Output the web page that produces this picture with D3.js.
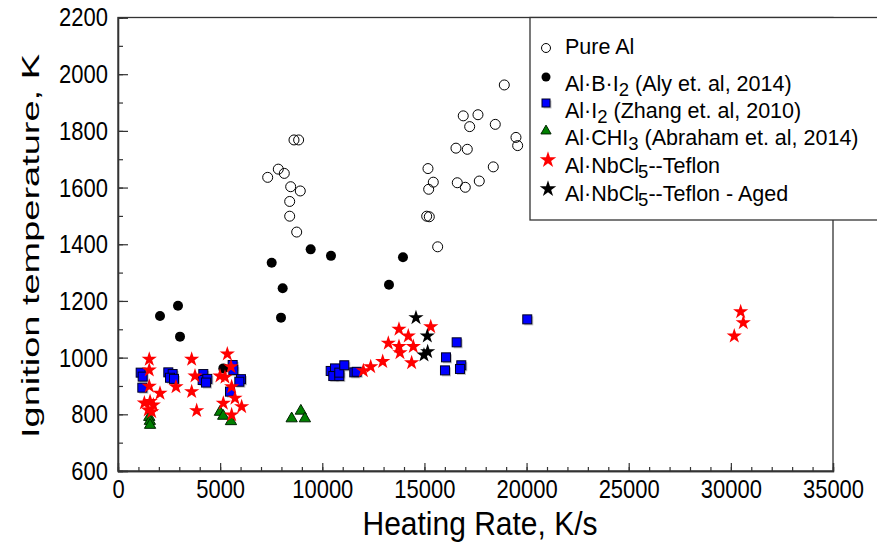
<!DOCTYPE html>
<html><head><meta charset="utf-8">
<script src="https://cdn.jsdelivr.net/npm/d3@7"></script>
<style>body{margin:0;background:#fff}svg{display:block}text{font-family:"Liberation Sans",Arial,sans-serif;fill:#000}</style>
</head><body><svg id="c" width="877" height="549"></svg>
<script>
// ---- data (Heating rate K/s, Ignition temperature K) ----
const xTicks = [0,5000,10000,15000,20000,25000,30000,35000];
const yTicks = [600,800,1000,1200,1400,1600,1800,2000,2200];
const pureAl = [[7327,1636],[7846,1665],[8140,1650],[8615,1768],[8842,1768],[8453,1603],[8923,1588],[8404,1551],[8404,1499],[8747,1443],
  [18910,1962],[16900,1853],[17621,1857],[17215,1815],[18468,1823],[19481,1777],[19564,1748],[16544,1739],[17098,1735],[15174,1667],
  [18370,1673],[15434,1619],[15208,1594],[16608,1617],[17000,1601],[17685,1623],[15110,1499],[15238,1497],[15648,1391]];
const alBI2 = [[2056,1147],[2937,1183],[3035,1074],[7523,1335],[9432,1382],[10426,1359],[8061,1245],[7979,1141],[13950,1354],[13265,1257],[5155,962]];
const alI2 = [[1110,947],[1208,933],[1191,894],[2463,948],[2675,942],[2545,929],[2741,925],[4176,942],[4144,921],[4372,925],[4307,912],
  [5613,974],[5645,956],[6020,924],[5939,915],[5482,880],[10411,953],[10622,962],[10538,935],[10832,935],[10832,947],[11077,973],
  [11566,948],[11684,950],[16578,1054],[16055,1001],[16006,955],[16804,973],[16740,960],[20034,1135]];
const alCHI3 = [[1530,790],[1560,776],[1570,762],[4990,808],[5150,794],[5530,775],[8500,785],[8950,812],[9150,785]];
const alNbCl5 = [[1530,994],[1530,956],[1530,899],[2056,874],[1290,840],[1570,845],[1730,833],[1480,815],[1650,809],
  [3606,994],[3769,935],[2839,897],[3606,880],[3851,813],
  [5351,1013],[5531,968],[4993,935],[5237,931],[5563,897],[5727,857],[5155,839],[6053,827],[5563,798],
  [12009,954],[12370,968],[12957,986],[13232,1051],[13754,1100],[14210,1076],[13754,1039],[13803,1017],[14455,1039],[14374,982],[15309,1109],
  [30480,1162],[30608,1123],[30167,1076]];
const alNbCl5Aged = [[14586,1141],[15141,1076],[15158,1021],[14978,1009]];

const svg = d3.select("#c");
const L=118,R=833,T=17.5,B=471;
const x = d3.scaleLinear().domain([0,35000]).range([L,R]);
const y = d3.scaleLinear().domain([600,2200]).range([B,T]);
const axisCol = "#333";

// frame
svg.append("rect").attr("x",L).attr("y",T).attr("width",R-L).attr("height",B-T)
  .attr("fill","none").attr("stroke",axisCol).attr("stroke-width",1.3);

// minor ticks
const gxm = svg.append("g").attr("transform",`translate(0,${B})`)
  .call(d3.axisBottom(x).tickValues(d3.range(0,35001,1000)).tickSize(-4).tickFormat(""));
const gym = svg.append("g").attr("transform",`translate(${L},0)`)
  .call(d3.axisLeft(y).tickValues(d3.range(600,2201,100)).tickSize(-5).tickFormat(""));
// major ticks
const gx = svg.append("g").attr("transform",`translate(0,${B})`)
  .call(d3.axisBottom(x).tickValues(xTicks).tickSize(-8).tickPadding(8).tickFormat(d3.format("d")));
const gy = svg.append("g").attr("transform",`translate(${L},0)`)
  .call(d3.axisLeft(y).tickValues(yTicks).tickSize(-10).tickPadding(10).tickFormat(d3.format("d")));
[gxm,gym,gx,gy].forEach(g=>{g.select(".domain").attr("stroke",axisCol).attr("stroke-width",1.3);
  g.selectAll(".tick line").attr("stroke",axisCol).attr("stroke-width",1.2);});
gx.selectAll("text").attr("font-size",22).attr("y",0).attr("dy","0.71em")
  .attr("transform","translate(0,8) scale(1,1.2)").style("font-family",'"Liberation Sans",Arial,sans-serif').attr("fill","#000");
gy.selectAll("text").attr("font-size",22).attr("transform","scale(1,1.2)")
  .style("font-family",'"Liberation Sans",Arial,sans-serif').attr("fill","#000");

// axis titles
svg.append("text").attr("transform","translate(480,535) scale(1,1.1)").attr("text-anchor","middle")
  .attr("font-size",30).text("Heating Rate, K/s");
svg.append("text").attr("transform","translate(39,246) rotate(-90) scale(1.55,1)").attr("text-anchor","middle")
  .attr("font-size",24.5).text("Ignition temperature, K");

// marks
const plot = svg.append("g");
const star = d3.symbol().type(d3.symbolStar).size(72);
const tri = d3.symbol().type(d3.symbolTriangle).size(55);
function drawOpen(g,d){g.selectAll(null).data(d).enter().append("circle").attr("cx",p=>x(p[0])).attr("cy",p=>y(p[1])).attr("r",5)
  .attr("fill","#fff").attr("fill-opacity",0).attr("stroke","#000").attr("stroke-width",1);}
function drawFilled(g,d){g.selectAll(null).data(d).enter().append("circle").attr("cx",p=>x(p[0])).attr("cy",p=>y(p[1])).attr("r",5).attr("fill","#000");}
function drawSquares(g,d){
  g.selectAll(null).data(d).enter().append("rect").attr("x",p=>x(p[0])-3).attr("y",p=>y(p[1])-3).attr("width",9).attr("height",9).attr("fill","#999").attr("opacity",0.6);
  g.selectAll(null).data(d).enter().append("rect").attr("x",p=>x(p[0])-4.5).attr("y",p=>y(p[1])-4.5).attr("width",9).attr("height",9).attr("fill","#0000ff").attr("stroke","#000022").attr("stroke-width",1);}
function drawTri(g,d){g.selectAll(null).data(d).enter().append("path").attr("d",tri).attr("transform",p=>`translate(${x(p[0])},${y(p[1])})`)
  .attr("fill","#008000").attr("stroke","#002200").attr("stroke-width",1);}
function drawStar(g,d,c){g.selectAll(null).data(d).enter().append("path").attr("d",star).attr("transform",p=>`translate(${x(p[0])},${y(p[1])})`).attr("fill",c);}
drawOpen(plot,pureAl);
drawFilled(plot,alBI2);
drawSquares(plot,alI2);
drawTri(plot,alCHI3);
drawStar(plot,alNbCl5,"#ff0000");
drawStar(plot,alNbCl5Aged,"#000");

// legend
const lg = svg.append("g");
lg.append("rect").attr("x",530).attr("y",T).attr("width",360).attr("height",220-T).attr("fill","#fff").attr("stroke",axisCol).attr("stroke-width",1.3);
const legendItems = [
  {parts:[["Pure Al"]], my:48, ty:55, kind:"open"},
  {parts:[["Al·B·I"],["2","sub"],[" (Aly et. al, 2014)"]], my:77, ty:92, kind:"filled"},
  {parts:[["Al·I"],["2","sub"],[" (Zhang et. al, 2010)"]], my:103, ty:119, kind:"square"},
  {parts:[["Al·CHI"],["3","sub"],[" (Abraham et. al, 2014)"]], my:131, ty:146, kind:"tri"},
  {parts:[["Al·NbCl"],["5","sub"],["--Teflon"]], my:160, ty:174, kind:"star", c:"#ff0000"},
  {parts:[["Al·NbCl"],["5","sub"],["--Teflon - Aged"]], my:189, ty:202, kind:"star", c:"#000"}
];
legendItems.forEach(it=>{
  const mx=546, my=it.my;
  if(it.kind==="open") lg.append("circle").attr("cx",mx).attr("cy",my).attr("r",4.5).attr("fill","none").attr("stroke","#000");
  if(it.kind==="filled") lg.append("circle").attr("cx",mx).attr("cy",my).attr("r",4.5).attr("fill","#000");
  if(it.kind==="square"){lg.append("rect").attr("x",mx-2.5).attr("y",my-2.5).attr("width",8).attr("height",8).attr("fill","#999").attr("opacity",0.6);
    lg.append("rect").attr("x",mx-4).attr("y",my-4).attr("width",8).attr("height",8).attr("fill","#0000ff").attr("stroke","#000022");}
  if(it.kind==="tri") lg.append("path").attr("d",d3.symbol().type(d3.symbolTriangle).size(45)).attr("transform",`translate(${mx},${my})`).attr("fill","#008000").attr("stroke","#002200");
  if(it.kind==="star") lg.append("path").attr("d",d3.symbol().type(d3.symbolStar).size(85)).attr("transform",`translate(${mx+2},${my})`).attr("fill",it.c);
  const t = lg.append("text").attr("x",565).attr("y",it.ty+4).attr("font-size",21.5);
  it.parts.forEach(p=>{
    if(p[1]==="sub") t.append("tspan").attr("dy",5).attr("font-size",18.5).attr("dx",p[0]==="5"?-1:0).text(p[0]);
    else t.append("tspan").attr("dy",t.selectAll("tspan").size()>0?-5:0).text(p[0]);
  });
});
</script></body></html>
